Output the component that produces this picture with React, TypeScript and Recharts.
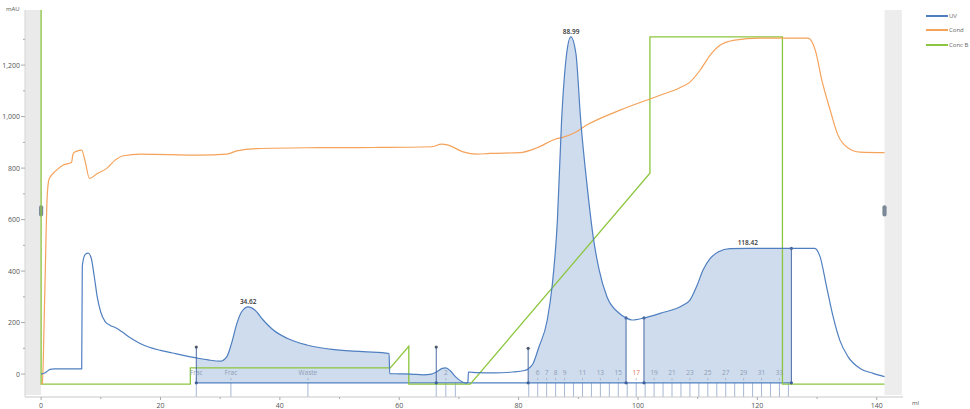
import React from "react";
import {
  ComposedChart,
  Line,
  Area,
  XAxis,
  YAxis,
  ReferenceArea,
  ReferenceLine,
  ReferenceDot,
} from "recharts";

const UV = "#4f7fc0";
const COND = "#f5a25a";
const CONC_B = "#8cc63f";
const FILL = "#c9d8ec";
const MARK = "#4a6aa5";
const FRAC_TXT = "#8f9cb4";
const FONT = "'Open Sans', 'DejaVu Sans', sans-serif";

// UV (mAU) against volume (ml)
const uvPoints: [number, number][] = [
  [0, 0], [0.6, 4], [1.5, 18], [2.2, 20], [6.8, 20], [6.9, 420], [7.4, 465], [7.9, 470],
  [8.4, 450], [8.9, 380], [9.4, 300], [10, 240], [10.7, 205], [11.5, 190], [12.4, 181],
  [13.5, 165], [15, 140], [16.5, 120], [18, 105], [20, 92], [22, 82], [24, 72], [26, 63],
  [28, 55], [30, 50], [31.1, 67], [31.9, 119], [32.8, 197], [33.6, 242], [34.7, 261],
  [35.8, 249], [37.2, 210], [38.9, 171], [41.2, 139], [44.5, 113], [48.4, 97], [54, 87],
  [58.3, 80], [58.4, 2], [60, 1], [62, 0], [64, -3], [65.4, 0], [66.2, 8], [67.2, 22],
  [67.8, 24], [68.6, 12], [69.5, -12], [70.5, -30], [71.2, -35], [71.5, -30], [71.6, 8],
  [73, 6], [76, 5], [79, 8], [81, 14], [81.6, 20], [82.4, 40], [83.4, 105], [84.8, 210],
  [85.6, 338], [86.5, 598], [87.2, 986], [88.05, 1245], [88.75, 1310], [89.6, 1245],
  [90.4, 986], [91.5, 726], [92.5, 532], [93.5, 404], [94.8, 300], [96.8, 237], [98, 218],
  [99, 210], [101, 218], [103.7, 236], [107.6, 268], [108.7, 287], [109.8, 339],
  [110.9, 404], [112.1, 449], [113.5, 475], [115.4, 487], [118.4, 488], [125.7, 488],
  [129.6, 488], [130.5, 456], [131.6, 339], [132.7, 222], [133.8, 132], [135.2, 67],
  [137.2, 22], [139.4, 3], [141.3, -10],
];

// conductivity, shown on the mAU scale
const condPoints: [number, number][] = [
  [0, -39], [0.2, -35], [0.6, 300], [1.0, 680], [1.3, 755], [1.6, 768], [2.3, 786],
  [3.7, 812], [5.1, 822], [5.3, 850], [5.5, 860], [6.0, 866], [6.8, 870], [7.4, 824],
  [8.1, 760], [9.3, 777], [11, 799], [12.4, 831], [13.8, 848], [16.6, 854], [26.6, 850],
  [31.1, 854], [32.8, 867], [36.1, 876], [44.5, 879], [55.7, 880], [65.4, 883], [67.1, 893],
  [68.2, 889], [70.7, 863], [73, 854], [75.2, 857], [80.2, 860], [83, 878], [86.1, 912],
  [87.5, 920], [89.2, 935], [91.4, 967], [97, 1025], [103.7, 1083], [107, 1112],
  [108.7, 1134], [110.4, 1180], [112.1, 1239], [113.8, 1278], [116.2, 1297], [120.4, 1305],
  [128.5, 1305], [129.7, 1258], [130.8, 1142], [132.2, 1025], [133.5, 928], [135.2, 878],
  [137.2, 862], [141.3, 860],
];

const concBPoints: [number, number][] = [
  [0, 1414], [0, -39], [25, -39], [25, 24], [58.5, 24], [61.6, 108], [61.6, -39],
  [71.9, -39], [102, 780], [102, 1310], [124.2, 1310], [124.2, -39], [141.3, -39],
];

const fillRanges: [number, number][] = [[26, 71.2], [81.6, 98], [101, 125.7]];
const peakLabels: [number, number, string][] = [
  [34.7, 261, "34.62"], [88.8, 1310, "88.99"], [118.4, 488, "118.42"],
];
// integration markers: x, top value
const markers: [number, number][] = [
  [26, 105], [66.2, 105], [81.6, 100], [98, 218], [101, 218], [125.7, 488],
];
const fracLines = [
  26, 31.8, 44.7, 66.2, 67.8, 69.4, 81.7, 83.2, 84.7, 86.2, 87.7, 89.2, 90.7, 92.2, 93.7,
  95.2, 96.7, 98.2, 99.7, 101.2, 102.7, 104.2, 105.7, 107.2, 108.7, 110.2, 111.7, 113.2,
  114.7, 116.2, 117.7, 119.2, 120.7, 122.2, 123.7, 125.2,
];
const fracLabels: [string, number][] = [
  ["Frac", 26], ["Frac", 31.8], ["Waste", 44.7], ["2", 67.8], ["6", 83.2], ["7", 84.7],
  ["8", 86.2], ["9", 87.7], ["11", 90.7], ["13", 93.7], ["15", 96.7], ["17", 99.7],
  ["19", 102.7], ["21", 105.7], ["23", 108.7], ["25", 111.7], ["27", 114.7], ["29", 117.7],
  ["31", 120.7], ["33", 123.7],
];
const xTicks = [0, 10, 20, 30, 40, 50, 60, 70, 80, 90, 100, 110, 120, 130, 140];
const yTicks = [0, 100, 200, 300, 400, 500, 600, 700, 800, 900, 1000, 1100, 1200, 1300];
const BASE = -34;
const Y_MIN = -89;

const toRows = (pts: [number, number][]) => pts.map(([x, y]) => ({ x, y }));
const uvData = toRows(uvPoints);
const condData = toRows(condPoints);
const concBData = toRows(concBPoints);
const fillData: { x: number; y: number | null }[] = [];
fillRanges.forEach(([a, b]) => {
  uvPoints.filter(([x]) => x >= a && x <= b).forEach(([x, y]) => fillData.push({ x, y }));
  fillData.push({ x: b + 0.01, y: null });
});

function XTick(props: any) {
  const { x, y, payload } = props;
  const major = payload.value % 20 === 0;
  return (
    <g>
      <line x1={x} x2={x} y1={y} y2={y + (major ? 3 : 2)} stroke="#aaa" />
      {major && (
        <text x={x} y={y + 11} textAnchor="middle" fontSize={7} fill="#555" fontFamily={FONT}>
          {payload.value}
        </text>
      )}
    </g>
  );
}

function YTick(props: any) {
  const { x, y, payload } = props;
  const v = payload.value;
  const major = v % 200 === 0;
  return (
    <g>
      <line x1={x - (major ? 4 : 2)} x2={x} y1={y} y2={y} stroke="#aaa" />
      {major && (
        <text x={x - 5} y={y} dy={2.5} textAnchor="end" fontSize={7} fill="#555" fontFamily={FONT}>
          {v.toLocaleString("en-US")}
        </text>
      )}
    </g>
  );
}

const legend = [
  { name: "UV", color: UV },
  { name: "Cond", color: COND },
  { name: "Conc B", color: CONC_B },
];

export default function App() {
  return (
    <div
      style={{
        position: "absolute",
        left: 0,
        top: 0,
        width: 970,
        height: 409,
        background: "#fff",
        fontFamily: FONT,
      }}
    >
      <ComposedChart width={970} height={409} margin={{ top: 10, right: 67, bottom: 0, left: 0 }}>
        <XAxis
          type="number"
          dataKey="x"
          domain={[-2.7, 144.4]}
          ticks={xTicks}
          allowDataOverflow
          height={12}
          tickSize={0}
          tickMargin={0}
          tick={XTick}
          axisLine={{ stroke: "#c8c8c8" }}
        />
        <YAxis
          type="number"
          domain={[Y_MIN, 1414]}
          ticks={yTicks}
          allowDataOverflow
          width={25}
          tickSize={0}
          tickMargin={0}
          tick={YTick}
          axisLine={{ stroke: "#d4d4d4" }}
        />

        {/* side bands with drag handles */}
        <ReferenceArea x1={-2.7} x2={0} y1={-81} y2={1414} fill="#eaeaea" fillOpacity={1} />
        <ReferenceArea x1={141.3} x2={144.2} y1={-81} y2={1414} fill="#ededed" fillOpacity={1} />
        <ReferenceArea x1={-0.35} x2={0.35} y1={612} y2={656} fill="#7a8898" fillOpacity={1} radius={2} />
        <ReferenceArea x1={140.95} x2={141.65} y1={612} y2={656} fill="#7a8898" fillOpacity={1} radius={2} />

        <Area
          data={fillData}
          dataKey="y"
          type="monotone"
          baseValue={BASE}
          stroke="none"
          fill={FILL}
          fillOpacity={0.9}
          isAnimationActive={false}
        />

        {fracLines.map((fx, i) => (
          <ReferenceLine
            key={`fl${i}`}
            segment={[{ x: fx, y: BASE }, { x: fx, y: Y_MIN }]}
            stroke="#8098c2"
            strokeWidth={0.7}
          />
        ))}
        {fracLabels.map(([name, fx]) => (
          <ReferenceLine
            key={`fm${name}${fx}`}
            segment={[{ x: fx, y: -16 }, { x: fx, y: -24 }]}
            stroke="#9aaac4"
            strokeWidth={0.8}
          />
        ))}

        <ReferenceLine segment={[{ x: 26, y: BASE }, { x: 125.7, y: BASE }]} stroke={UV} strokeWidth={1.2} />

        <Line data={concBData} dataKey="y" type="linear" stroke={CONC_B} strokeWidth={1.3} dot={false} isAnimationActive={false} />
        <Line data={condData} dataKey="y" type="monotone" stroke={COND} strokeWidth={1.2} dot={false} isAnimationActive={false} />
        <Line data={uvData} dataKey="y" type="monotone" stroke={UV} strokeWidth={1.2} dot={false} isAnimationActive={false} />

        {markers.map(([mx, top], i) => (
          <ReferenceLine
            key={`mk${i}`}
            segment={[{ x: mx, y: top }, { x: mx, y: BASE }]}
            stroke={MARK}
            strokeWidth={1}
          />
        ))}
        {markers.map(([mx, top], i) => (
          <ReferenceDot key={`mt${i}`} x={mx} y={top} r={1.6} fill={i < 3 ? "#4d5a70" : MARK} stroke="none" />
        ))}
        {markers.map(([mx], i) => (
          <ReferenceDot key={`mb${i}`} x={mx} y={BASE} r={1.6} fill="#3f5f9a" stroke="none" />
        ))}

        {fracLabels.map(([name, fx]) => (
          <ReferenceDot
            key={`fx${name}${fx}`}
            x={fx}
            y={4}
            r={0}
            fill="none"
            stroke="none"
            label={{
              value: name,
              position: "center",
              fontSize: 6.5,
              fill: name === "17" ? "#e07a66" : FRAC_TXT,
              fontFamily: FONT,
            }}
          />
        ))}

        {peakLabels.map(([px, py, txt]) => (
          <ReferenceDot
            key={txt}
            x={px}
            y={py}
            r={0}
            fill="none"
            stroke="none"
            label={{ value: txt, position: "top", offset: 3, fontSize: 6.5, fill: "#333", fontWeight: 600, fontFamily: FONT }}
          />
        ))}
      </ComposedChart>

      <div style={{ position: "absolute", left: 6, top: 5, fontSize: 6, color: "#555" }}>mAU</div>
      <div style={{ position: "absolute", left: 912, top: 399, fontSize: 6, color: "#555" }}>ml</div>

      <div style={{ position: "absolute", left: 926, top: 9 }}>
        {legend.map((l) => (
          <div key={l.name} style={{ display: "flex", alignItems: "center", height: 14.3 }}>
            <div style={{ width: 22, height: 2, background: l.color }} />
            <span style={{ fontSize: 6, color: "#666", marginLeft: 1 }}>{l.name}</span>
          </div>
        ))}
      </div>
    </div>
  );
}
